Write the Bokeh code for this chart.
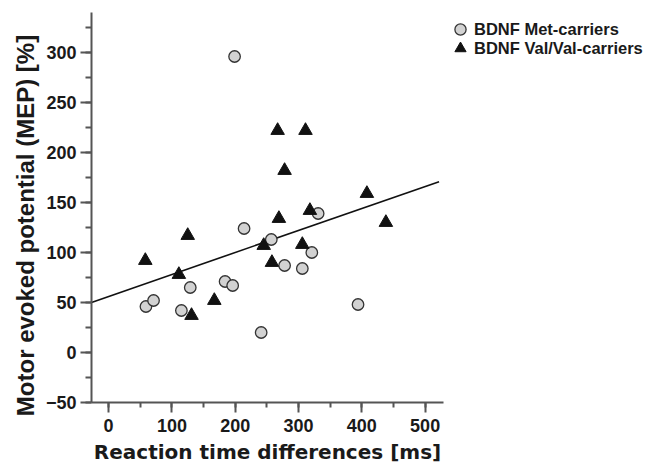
import math
from bokeh.plotting import figure
from bokeh.models import Legend, LegendItem, SingleIntervalTicker, Range1d, Label
from bokeh.embed import file_html
from bokeh.resources import INLINE

# --- data ---
met_x = [59, 71, 115, 129, 184, 196, 199, 214, 241, 257, 278, 306, 321, 331, 394]
met_y = [46, 52, 42, 65, 71, 67, 296, 124, 20, 113, 87, 84, 100, 139, 48]
val_x = [58, 111, 125, 131, 167, 245, 258, 267, 269, 278, 306, 311, 318, 408, 438]
val_y = [92, 78, 117, 37, 52, 107, 90, 222, 134, 182, 108, 222, 142, 159, 130]
fit_intercept = 56.0
fit_slope = 0.22
fit_x = [-27, 522]
fit_y = [fit_intercept + fit_slope * x for x in fit_x]

x_axis_start, x_axis_end = -27, 529
y_axis_start, y_axis_end = -50, 340
x_title = "Reaction time differences [ms]"
y_title = "Motor evoked potential (MEP) [%]"
series_names = ["BDNF Met-carriers", "BDNF Val/Val-carriers"]

# --- layout (pixels within the canvas) ---
W, H = 657, 464
AXIS_LEFT_PX = 91          # canvas x of the y axis line
AXIS_RIGHT_PX = 443        # canvas x where the x axis line ends
AXIS_TOP_PX = 12           # canvas y of the top of the y axis
AXIS_BOTTOM_PX = 402       # canvas y of the x axis line

sx = (AXIS_RIGHT_PX - AXIS_LEFT_PX) / (x_axis_end - x_axis_start)
sy = (AXIS_BOTTOM_PX - AXIS_TOP_PX) / (y_axis_end - y_axis_start)
xr = Range1d(x_axis_start - AXIS_LEFT_PX / sx, x_axis_start + (W - AXIS_LEFT_PX) / sx)
yr = Range1d(y_axis_start - (H - AXIS_BOTTOM_PX) / sy, y_axis_end + AXIS_TOP_PX / sy)

FONT = "Liberation Sans"
TXT = "#1a1a1a"
AX = "#555555"

p = figure(width=W, height=H, output_backend="svg", toolbar_location=None,
           x_range=xr, y_range=yr,
           min_border_left=0, min_border_right=0, min_border_top=0, min_border_bottom=0)
p.outline_line_color = None
p.grid.grid_line_color = None
p.background_fill_color = "white"
p.border_fill_color = "white"

r_line = p.line(fit_x, fit_y, line_color="#111111", line_width=1.6)
r_met = p.scatter(met_x, met_y, marker="circle", size=11.5, fill_color="#d2d2d2",
                  line_color="#333333", line_width=1.3)
r_val = p.scatter(val_x, val_y, marker="triangle", size=13.5, fill_color="#111111",
                  line_color="#111111", line_width=1)

for ax in (p.xaxis[0], p.yaxis[0]):
    ax.axis_line_color = AX
    ax.axis_line_width = 2
    ax.major_tick_line_color = AX
    ax.minor_tick_line_color = AX
    ax.major_tick_line_width = 2
    ax.minor_tick_line_width = 2
    ax.major_tick_in = 0
    ax.minor_tick_in = 0
    ax.major_label_text_font = FONT
    ax.major_label_text_font_style = "bold"
    ax.major_label_text_font_size = "18px"
    ax.major_label_text_color = TXT

p.xaxis.ticker = SingleIntervalTicker(interval=100, num_minor_ticks=2)
p.yaxis.ticker = SingleIntervalTicker(interval=50, num_minor_ticks=2)
p.xaxis.bounds = (x_axis_start, x_axis_end)
p.yaxis.bounds = (y_axis_start, y_axis_end)
p.xaxis.fixed_location = y_axis_start
p.yaxis.fixed_location = x_axis_start
p.xaxis.major_tick_out = 10
p.xaxis.minor_tick_out = 5
p.yaxis.major_tick_out = 11
p.yaxis.minor_tick_out = 6
p.xaxis.major_label_standoff = 6
p.yaxis.major_label_standoff = 4

# axis titles (screen units relative to the frame, which fills the canvas)
p.add_layout(Label(x=(x_axis_start + x_axis_end) / 2, y=H - 451, x_units="data", y_units="screen",
                   text=x_title, text_align="center", text_baseline="alphabetic",
                   text_font="DejaVu Sans", text_font_style="bold", text_font_size="20px",
                   text_color=TXT))
p.add_layout(Label(x=25, y=H - 225, x_units="screen", y_units="screen", text=y_title,
                   angle=math.pi / 2, text_align="center", text_baseline="alphabetic",
                   text_font=FONT, text_font_style="bold", text_font_size="24px",
                   text_color=TXT))

common = dict(padding=0, margin=0, glyph_width=28, glyph_height=28, label_height=28,
              label_standoff=0, label_text_font=FONT, label_text_font_style="bold",
              label_text_font_size="16.5px", label_text_color=TXT,
              border_line_alpha=0, background_fill_alpha=0)
leg1 = Legend(items=[LegendItem(label=series_names[0], renderers=[r_met])],
              location=(446, H - 43), **common)
leg2 = Legend(items=[LegendItem(label=series_names[1], renderers=[r_val])],
              location=(446, H - 62), **common)
p.add_layout(leg1)
p.add_layout(leg2)

open("out.html", "w").write(file_html(p, INLINE))
